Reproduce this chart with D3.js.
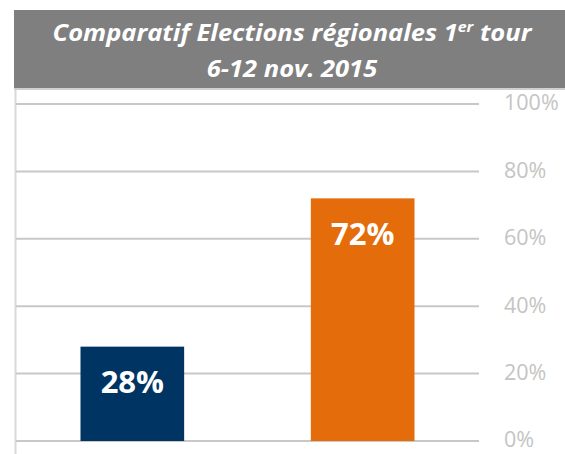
<!DOCTYPE html>
<html>
<head>
<meta charset="utf-8">
<script src="https://cdn.jsdelivr.net/npm/d3@7"></script>
<style>
  body { margin: 0; background: #fff; }
  svg { display: block; font-family: 'Open Sans', sans-serif; }
</style>
</head>
<body>
<div class="canvas"></div>
<script>
// Data
var categories = ['A', 'B'];
var values = [28, 72];
var barColors = ['#003462', '#e46c0a'];
var tickValues = [0, 20, 40, 60, 80, 100];
var titleLines = ['Comparatif Elections régionales 1', '6-12 nov. 2015'];

var width = 565, height = 454;
var svg = d3.select('.canvas').append('svg').attr('width', width).attr('height', height);

// Title bar
svg.append('rect').attr('x', 14).attr('y', 10).attr('width', width - 14).attr('height', 78).attr('fill', '#7f7f7f');
svg.append('line').attr('x1', 14).attr('x2', width).attr('y1', 89).attr('y2', 89)
  .attr('stroke', '#d0d0d0').attr('stroke-width', 2);

var titleX = 292;
var titleGroup = svg.append('g');
var t1 = titleGroup.append('text').attr('x', 0).attr('y', 41).attr('text-anchor', 'middle')
  .attr('fill', '#fff').attr('font-weight', 'bold').attr('font-style', 'italic').attr('font-size', 24);
t1.append('tspan').text(titleLines[0]);
t1.append('tspan').attr('dy', -9).attr('font-size', 15).text('er');
t1.append('tspan').attr('dy', 9).text(' tour');

var t2 = titleGroup.append('text').attr('x', 0).attr('y', 77).attr('text-anchor', 'middle')
  .attr('fill', '#fff').attr('font-weight', 'bold').attr('font-style', 'italic').attr('font-size', 24)
  .text(titleLines[1]);

// Squeeze the title horizontally (Calibri is narrower than Open Sans)
var w1 = t1.node().getBBox().width;
var k = 480 / w1;
titleGroup.attr('transform', 'translate(' + titleX + ',0) scale(' + k + ',1)');

// Plot area
var plotLeft = 16, plotRight = 479;
var y = d3.scaleLinear().domain([0, 100]).range([441, 104]);
var x = d3.scaleBand().domain(categories).range([plotLeft, plotRight]).paddingInner(0.55).paddingOuter(0.28);

// Left border
svg.append('line').attr('x1', 15.5).attr('x2', 15.5).attr('y1', 90).attr('y2', height)
  .attr('stroke', '#d9d9d9').attr('stroke-width', 2);

// Gridlines
svg.append('g').selectAll('line').data(tickValues).enter().append('line')
  .attr('x1', plotLeft).attr('x2', plotRight)
  .attr('y1', function (d) { return y(d); }).attr('y2', function (d) { return y(d); })
  .attr('stroke', '#c8c8c8').attr('stroke-width', 2);

// Right axis labels
var yAxis = d3.axisRight(y).tickValues(tickValues).tickSize(0).tickPadding(0)
  .tickFormat(function (d) { return d + '%'; });
var yAxisGroup = svg.append('g').attr('transform', 'translate(504, -1)').call(yAxis);
yAxisGroup.select('.domain').remove();
yAxisGroup.selectAll('text').attr('fill', '#c4c4c4').attr('font-size', 21.5)
  .attr('font-family', "'Open Sans', sans-serif");

// Bars
svg.append('g').selectAll('rect').data(values).enter().append('rect')
  .attr('x', function (d, i) { return x(categories[i]); })
  .attr('width', x.bandwidth())
  .attr('y', function (d) { return y(d); })
  .attr('height', function (d) { return y(0) - y(d); })
  .attr('fill', function (d, i) { return barColors[i]; });

// Value labels
svg.append('g').selectAll('text').data(values).enter().append('text')
  .attr('x', function (d, i) { return x(categories[i]) + x.bandwidth() / 2; })
  .attr('y', function (d) { return y(d) + 36; })
  .attr('dy', '0.35em')
  .attr('text-anchor', 'middle')
  .attr('fill', '#fff').attr('font-weight', 'bold').attr('font-size', 31)
  .text(function (d) { return d + '%'; });
</script>
</body>
</html>
